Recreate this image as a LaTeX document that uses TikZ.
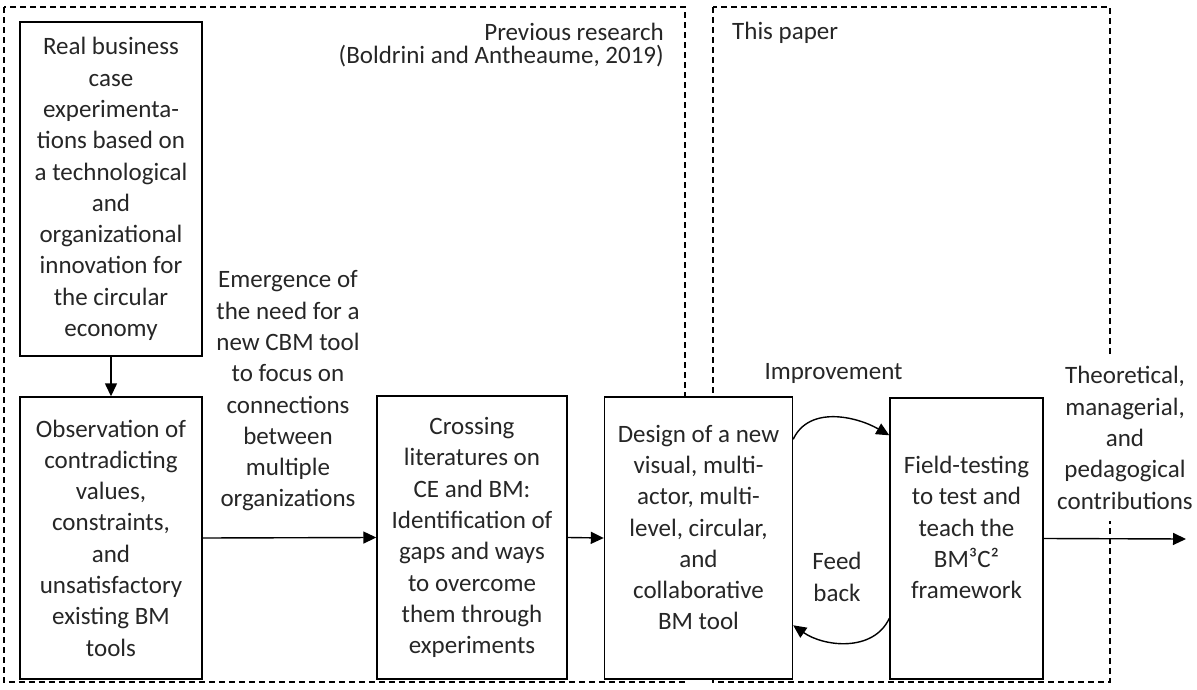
\documentclass[tikz,border=0pt]{standalone}
\usepackage{fontspec}
\setmainfont{Carlito}
\usetikzlibrary{arrows.meta,calc}
\begin{document}
\begin{tikzpicture}[x=1pt,y=-1pt,
  txt/.style={text=black!85, font=\fontsize{25pt}{31.3pt}\selectfont, align=center, inner sep=0pt},
  box/.style={txt, draw=black, fill=white, line width=1.4pt, minimum width=#1},
  region/.style={draw=black, line width=1.3pt, dash pattern=on 6pt off 4pt},
  arr/.style={draw=black, line width=1.4pt, -{Triangle[length=13pt,width=12pt]}},
  hdr/.style={text=black!85, font=\fontsize{25pt}{25pt}\selectfont, inner sep=0pt, text height=14pt, text depth=4pt}
]
\useasboundingbox (0,0) rectangle (1197,690);
% regions
\draw[region] (4,7) rectangle (685,682);
\draw[region] (713,7) rectangle (1110,682);
\node[hdr, anchor=base east] (prev) at (664,41) {Previous research};
\node[hdr, anchor=base east] (prevref) at (664,64) {(Boldrini and Antheaume, 2019)};
\node[hdr, anchor=base west] (this) at (732,40) {This paper};

% boxes
\node[box=182pt, minimum height=334pt] (b1) at (111,189) {Real business\\case\\experimenta-\\tions based on\\a technological\\and\\organizational\\innovation for\\the circular\\economy};
\node[box=182pt, minimum height=282pt] (b2) at (111,538) {Observation of\\contradicting\\values,\\constraints,\\and\\unsatisfactory\\existing BM\\tools};
\node[box=190pt, minimum height=283pt] (b3) at (472,537.5) {Crossing\\literatures on\\CE and BM:\\Identification of\\gaps and ways\\to overcome\\them through\\experiments};
\node[box=188pt, minimum height=282pt] (design) at (698.5,538) {};
\node[txt] (designtxt) at (698.5,527.5) {Design of a new\\visual, multi-\\actor, multi-\\level, circular,\\and\\collaborative\\BM tool};
\node[box=153pt, minimum height=281pt] (field) at (966.5,538.5) {};
\node[txt] (fieldtxt) at (966.5,527.5) {Field-testing\\to test and\\teach the\\BM³C²\\framework};

% labels
\node[txt] (emerg) at (288,391) {Emergence of\\the need for a\\new CBM tool\\to focus on\\connections\\between\\multiple\\organizations};
\node[txt] (impr) at (833.5,373) {Improvement};
\node[txt] (feed) at (837,577) {Feed\\back};
\node[txt, fill=white, inner ysep=12pt, inner xsep=2pt] (contrib) at (1125,438) {Theoretical,\\managerial,\\and\\pedagogical\\contributions};

% connectors
\coordinate (out) at (1186,539);
\draw[arr] (b1.south) -- (b2.north);
\draw[arr] (b2.east) -- (b3.west);
\draw[arr] (b3.east) -- (design.west);
\draw[arr] ($(design.north east)+(0,43)$) to[out=65,in=150] ($(field.north west)+(0,38)$);
\draw[arr] ($(field.north west)+(0,221)$) to[out=-115,in=-35] ($(design.north east)+(0,229)$);
\draw[arr] (field.east) -- (out);
\end{tikzpicture}
\end{document}
